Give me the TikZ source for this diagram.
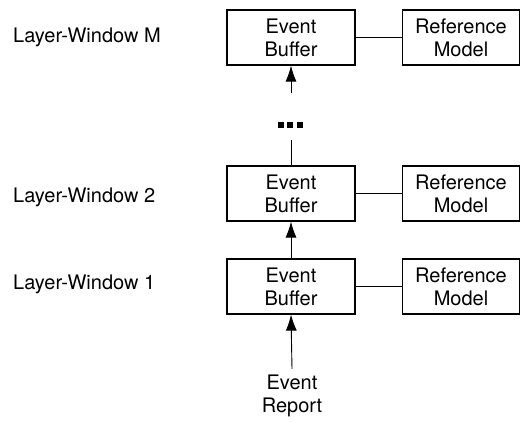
\documentclass[tikz,border=0pt]{standalone}
\usepackage{fontspec}
\setmainfont{TeX Gyre Heros}
\usetikzlibrary{arrows.meta}
\tikzset{
  x=1pt, y=-1pt,
  txt/.style={font=\fontsize{20}{23}\selectfont, align=center},
  bufbox/.style={txt, draw, line width=1.2pt, minimum width=128pt, minimum height=55pt, inner sep=0pt},
  refbox/.style={txt, draw, line width=1.2pt, minimum width=117pt, minimum height=55pt, inner sep=0pt},
  layerlabel/.style={font=\fontsize{20}{23}\selectfont, anchor=west, inner sep=0pt},
  link/.style={line width=0.8pt},
  flow/.style={line width=0.9pt, -{Latex[length=16pt, width=11pt]}},
  dot/.style={fill=black, inner sep=0pt, minimum size=6pt}
}
\begin{document}
\begin{tikzpicture}
\useasboundingbox (0,0) rectangle (520,422);

% layer labels
\node[layerlabel] (lm) at (13,37) {Layer-Window M};
\node[layerlabel] (l2) at (13,197) {Layer-Window 2};
\node[layerlabel] (l1) at (13,284) {Layer-Window 1};

% event buffers
\node[bufbox] (bm) at (291,37.5) {Event\\Buffer};
\node[bufbox] (b2) at (291,193.5) {Event\\Buffer};
\node[bufbox] (b1) at (291,286.5) {Event\\Buffer};

% reference models
\node[refbox] (rm) at (461,37.5) {Reference\\Model};
\node[refbox] (r2) at (461,193.5) {Reference\\Model};
\node[refbox] (r1) at (461,286.5) {Reference\\Model};

% buffer -- model links
\draw[link] (bm) -- (rm);
\draw[link] (b2) -- (r2);
\draw[link] (b1) -- (r1);

% input report
\node[txt, inner xsep=0pt, inner ysep=6pt] (rep) at (292,396) {Event\\Report};
\draw[flow] (rep.north) -- (b1.south);
\draw[flow] (b1.north) -- (b2.south);

% elided layers
\node[dot] (d1) at (280.5,125) {};
\node[dot] (d2) at (290,125) {};
\node[dot] (d3) at (299.5,125) {};
\coordinate (gapbot) at (291,140);
\coordinate (gaptop) at (291,93);
\draw[link] (gapbot) -- (b2.north);
\draw[flow] (gaptop) -- (bm.south);
\end{tikzpicture}
\end{document}
